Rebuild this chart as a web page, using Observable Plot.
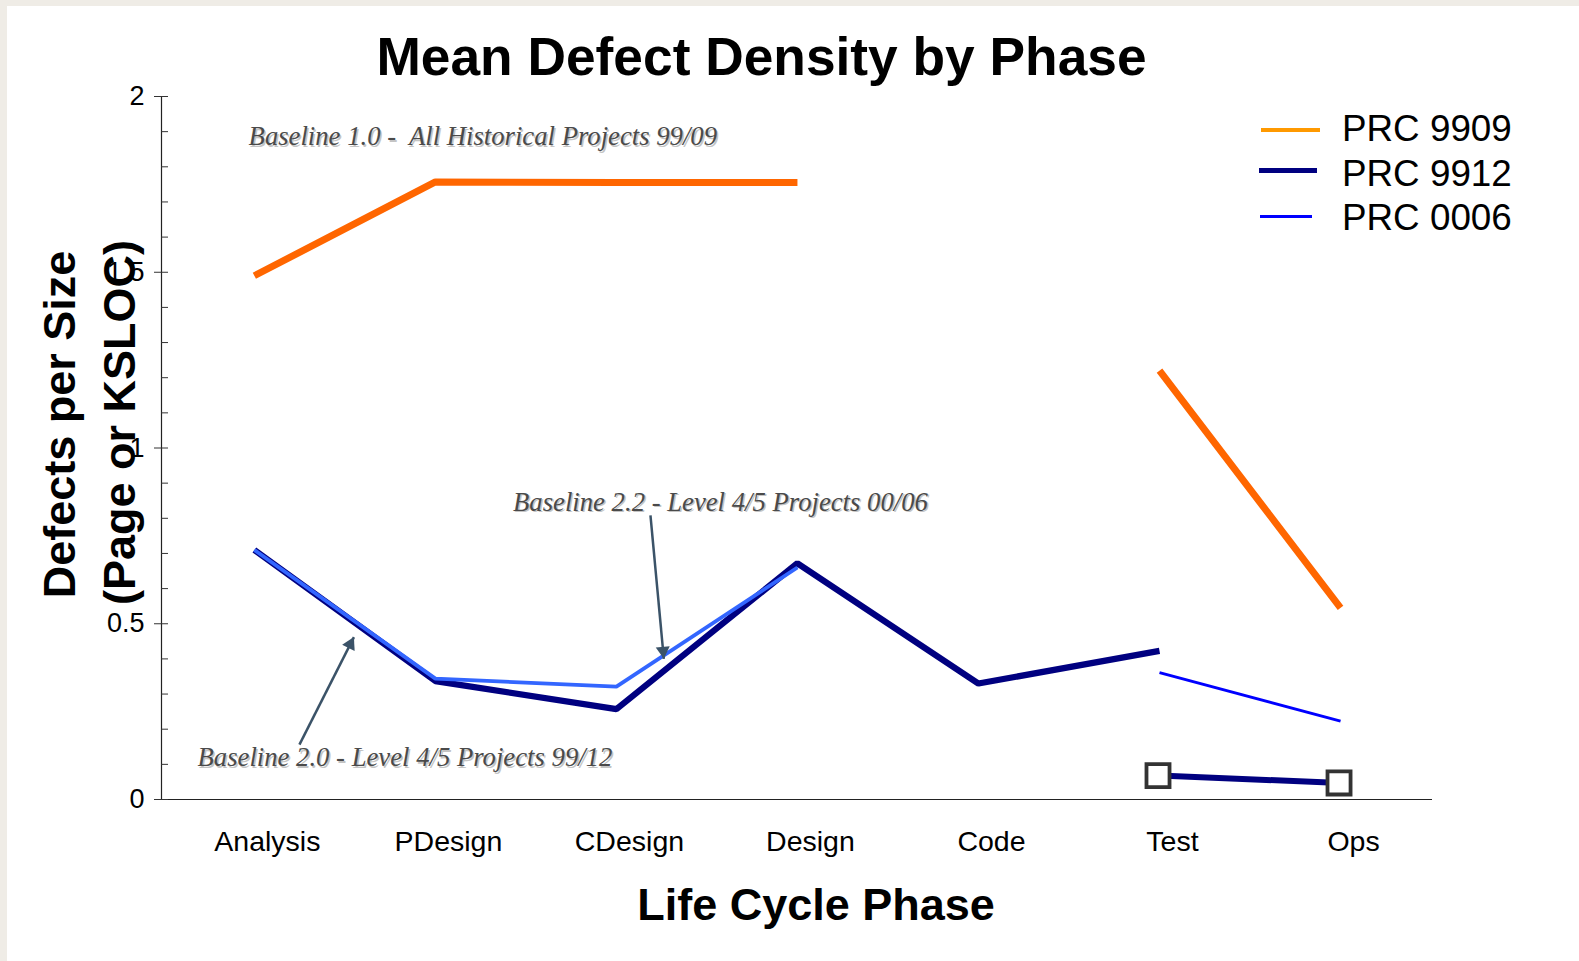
<!DOCTYPE html>
<html>
<head>
<meta charset="utf-8">
<script src="https://cdn.jsdelivr.net/npm/d3@7"></script>
<script src="https://cdn.jsdelivr.net/npm/@observablehq/plot@0.6"></script>
<style>
  html, body { margin: 0; padding: 0; background: #efece6; width: 1579px; height: 961px; overflow: hidden; }
  #panel { position: absolute; left: 7px; top: 6px; right: 0; bottom: 0; background: #ffffff; }
  #chart { position: absolute; left: 0; top: 0; }
  #chart svg text { white-space: pre; }
  .legline { position: absolute; }
  .legtext { position: absolute; font: 36.8px "Liberation Sans", Arial, sans-serif; line-height: 36.8px; color: #000; white-space: nowrap; }
</style>
</head>
<body>
<div id="panel"></div>
<div id="chart"></div>
<div id="legend"></div>
<script>
// ---- data ----
const phases = ["Analysis", "PDesign", "CDesign", "Design", "Code", "Test", "Ops"];
const prc9909 = [1.49, 1.757, 1.755, 1.755, null, 1.22, 0.545];
const prc9912 = [0.71, 0.337, 0.257, 0.672, 0.33, 0.423, null];
const prc0006 = [0.71, 0.344, 0.321, 0.66, null, 0.361, 0.223];
const prc9912Markers = [null, null, null, null, null, 0.068, 0.047];
const yTicks = [0, 0.5, 1, 1.5, 2];
const yMinorTicks = [0.1, 0.2, 0.3, 0.4, 0.6, 0.7, 0.8, 0.9, 1.1, 1.2, 1.3, 1.4, 1.6, 1.7, 1.8, 1.9];
const seriesNames = ["PRC 9909", "PRC 9912", "PRC 0006"];
const noteTexts = ["Baseline 1.0 -  All Historical Projects 99/09", "Baseline 2.2 - Level 4/5 Projects 00/06", "Baseline 2.0 - Level 4/5 Projects 99/12"];
const notePhasePos = [-0.032, 1.429, -0.314];
const noteValues = [1.861, 0.821, 0.094];
const arrowFromPhase = [0.249, 2.188];
const arrowFromValue = [0.156, 0.808];
const arrowToPhase = [0.550, 2.262];
const arrowToValue = [0.462, 0.400];

// ---- tables ----
const rows = (vals) => phases.map((p, i) => ({i, phase: p, v: vals[i]}));
const r9909 = rows(prc9909);
const r9912 = rows(prc9912);
const r0006 = rows(prc0006);
const rMark = rows(prc9912Markers);
const notes = noteTexts.map((t, i) => ({text: t, x: notePhasePos[i], y: noteValues[i]}));
const arrows = arrowFromPhase.map((d, i) => ({x1: d, y1: arrowFromValue[i], x2: arrowToPhase[i], y2: arrowToValue[i]}));

const xDomain = [-0.513, 6.508];
const arrowColor = "#3b5368";
const font = "'Liberation Sans', Arial, sans-serif";
const serif = "'Liberation Serif', 'Times New Roman', serif";

const chart = Plot.plot({
  width: 1579,
  height: 961,
  marginLeft: 161,
  marginRight: 147,
  marginTop: 96,
  marginBottom: 162,
  style: {background: "transparent", fontFamily: font, color: "#000"},
  x: {type: "linear", domain: xDomain, axis: null},
  y: {domain: [0, 2], axis: null},
  marks: [
    // axes
    Plot.ruleY([0], {stroke: "#222", strokeWidth: 1.2}),
    Plot.ruleX([xDomain[0]], {stroke: "#222", strokeWidth: 1.2}),
    Plot.axisY({ticks: yMinorTicks, tickSize: 7, dx: 7, tickFormat: () => "", stroke: "#333", label: null}),
    Plot.axisY({ticks: yTicks, tickSize: 14, dx: 7, tickPadding: 10, fontSize: 27, stroke: "#333", label: null, tickFormat: d => String(d)}),
    Plot.axisX({ticks: d3.range(phases.length), tickFormat: i => phases[i], tickSize: 0, tickPadding: 31, dx: 13, fontSize: 28.5, label: null}),
    // titles
    Plot.text(["Mean Defect Density by Phase"], {text: d => d, frameAnchor: "top", textAnchor: "middle", lineAnchor: "bottom", dx: -35.5, dy: -22, fontSize: 53.3, fontWeight: "bold", fill: "#000"}),
    Plot.text(["Defects per Size"], {text: d => d, frameAnchor: "left", rotate: -90, textAnchor: "middle", lineAnchor: "bottom", dx: -86.5, dy: -23.5, fontSize: 45, fontWeight: "bold", fill: "#000"}),
    Plot.text(["(Page or KSLOC)"], {text: d => d, frameAnchor: "left", rotate: -90, textAnchor: "middle", lineAnchor: "bottom", dx: -27, dy: -25.5, fontSize: 45, fontWeight: "bold", fill: "#000"}),
    Plot.text(["Life Cycle Phase"], {text: d => d, frameAnchor: "bottom", textAnchor: "middle", lineAnchor: "bottom", dx: 19, dy: 120, fontSize: 45, fontWeight: "bold", fill: "#000"}),
    // series
    Plot.line(r9909, {x: "i", y: "v", stroke: "#ff6600", strokeWidth: 7, strokeLinecap: "butt", strokeLinejoin: "miter"}),
    Plot.line(r9912, {x: "i", y: "v", stroke: "#000080", strokeWidth: 6.3, strokeLinecap: "butt", strokeLinejoin: "miter"}),
    Plot.line(r0006, {filter: d => d.i <= 3, x: "i", y: "v", stroke: "#3366ff", strokeWidth: 3.8, strokeLinecap: "butt", strokeLinejoin: "miter"}),
    Plot.line(r0006, {filter: d => d.i >= 5, x: "i", y: "v", stroke: "#0000ff", strokeWidth: 3, strokeLinecap: "butt"}),
    Plot.line(rMark, {x: "i", y: "v", stroke: "#000080", strokeWidth: 6, strokeLinecap: "butt"}),
    Plot.dot(rMark, {x: "i", y: "v", symbol: "square", r: 13, fill: "#ffffff", stroke: "#333333", strokeWidth: 3.8, dx: -1.5}),
    // annotations
    Plot.text(notes, {x: "x", y: "y", text: "text", textAnchor: "start", lineAnchor: "bottom", fontFamily: serif, fontStyle: "italic", fontSize: 26.7, fill: "#c4c4c4", dx: 1.5, dy: 1.5}),
    Plot.text(notes, {x: "x", y: "y", text: "text", textAnchor: "start", lineAnchor: "bottom", fontFamily: serif, fontStyle: "italic", fontSize: 26.7, fill: "#4a4a4a"}),
    Plot.link(arrows, {x1: "x1", y1: "y1", x2: "x2", y2: "y2", stroke: arrowColor, strokeWidth: 2.5}),
    Plot.dot(arrows.slice(0, 1), {x: "x2", y: "y2", symbol: "triangle", r: 5.2, rotate: 26.9, dx: -3.7, dy: 7.2, fill: arrowColor, stroke: null}),
    Plot.dot(arrows.slice(1, 2), {x: "x2", y: "y2", symbol: "triangle", r: 5.2, rotate: 174.7, dx: -0.75, dy: -8.1, fill: arrowColor, stroke: null})
  ]
});
document.getElementById("chart").appendChild(chart);

// ---- legend ----
const legColors = ["#ff9900", "#000080", "#0000ff"];
const legLine = [{l: 1261, w: 59, y: 130.3, h: 4}, {l: 1259, w: 58, y: 170.7, h: 4.5}, {l: 1260, w: 52, y: 216, h: 3}];
const legBase = [141.7, 187.3, 230.7];
const leg = document.getElementById("legend");
seriesNames.forEach((name, i) => {
  const ln = document.createElement("div");
  ln.className = "legline";
  ln.style.left = legLine[i].l + "px";
  ln.style.width = legLine[i].w + "px";
  ln.style.top = (legLine[i].y - legLine[i].h / 2) + "px";
  ln.style.height = legLine[i].h + "px";
  ln.style.background = legColors[i];
  leg.appendChild(ln);
  const tx = document.createElement("div");
  tx.className = "legtext";
  tx.style.left = "1342px";
  tx.style.top = (legBase[i] - 0.8465 * 36.8) + "px";
  tx.textContent = name;
  leg.appendChild(tx);
});
</script>
</body>
</html>
